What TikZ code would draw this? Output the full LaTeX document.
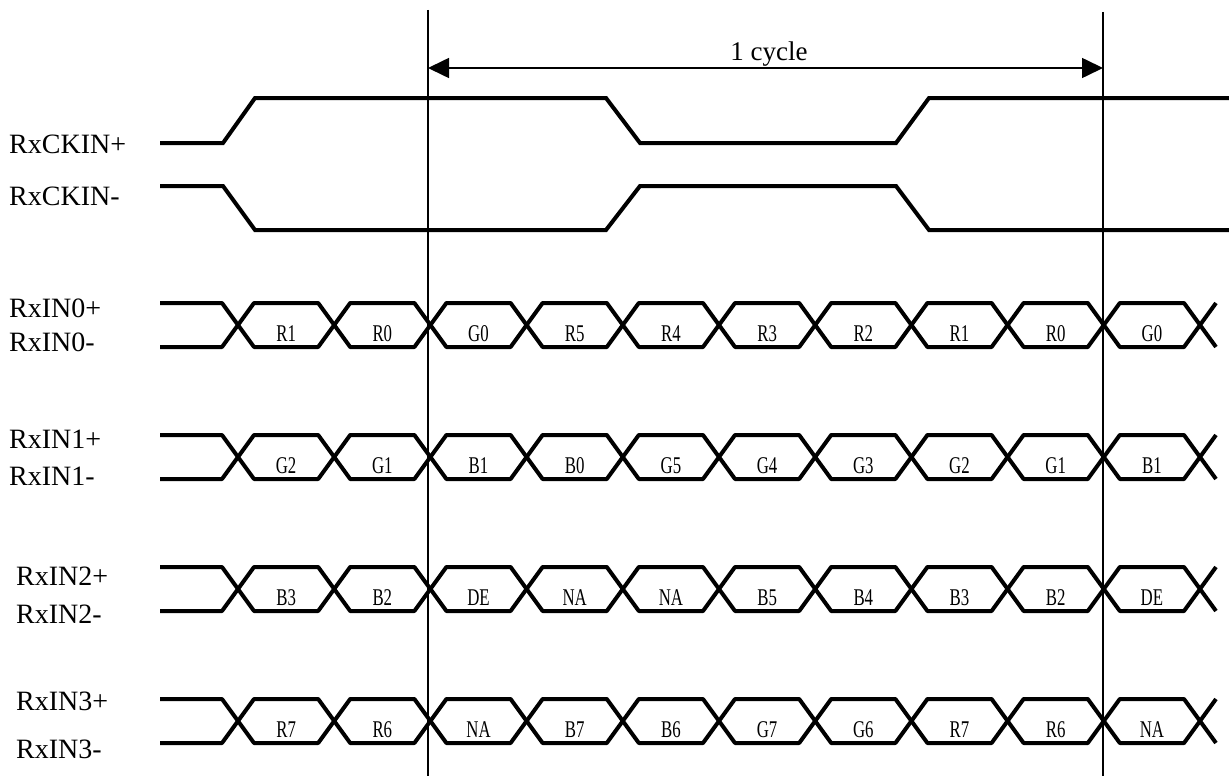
\documentclass[tikz,border=0pt]{standalone}
\usepackage{graphicx}
\usepackage{fontspec}
\setmainfont{Liberation Serif}
\usepackage{tikz}
\usetikzlibrary{calc,arrows.meta}

\begin{document}
\begin{tikzpicture}[
  x=1pt, y=-1pt
  ]
  \tikzstyle{wave}=[line width=4pt]
  \tikzstyle{bus}=[line width=4pt, line join=round]
  \tikzstyle{marker}=[line width=2pt]
  \tikzstyle{span}=[line width=1.6pt, {Triangle[length=21pt,width=20pt]}-{Triangle[length=21pt,width=20pt]}]
  \tikzstyle{pin name}=[anchor=base west, inner sep=0pt, font=\fontsize{28}{28}\selectfont]
  \tikzstyle{bit name}=[anchor=base, inner sep=0pt, font=\fontsize{24}{24}\selectfont]
  \fill[white] (0,0) rectangle (1229,776);
  \useasboundingbox (0,0) rectangle (1229,776);
  % clock pair
  \draw[wave] (160,143) -- (223,143) -- (255,98) -- (606,98) -- (640,143) -- (896,143) -- (929,98) -- (1229,98);
  \draw[wave] (160,186) -- (223,186) -- (255,230) -- (606,230) -- (640,186) -- (896,186) -- (929,230) -- (1229,230);
  \node[pin name] (ckp) at (9,153) {RxCKIN+};
  \node[pin name] (ckn) at (9,205) {RxCKIN-};
  % data pairs
  \foreach \rowtop/\bits [count=\r] in {303/{R1,R0,G0,R5,R4,R3,R2,R1,R0,G0},
      435/{G2,G1,B1,B0,G5,G4,G3,G2,G1,B1},
      567/{B3,B2,DE,NA,NA,B5,B4,B3,B2,DE},
      699/{R7,R6,NA,B7,B6,G7,G6,R7,R6,NA}} {
    \pgfmathsetmacro\rowmid{\rowtop+22}
    \pgfmathsetmacro\rowbot{\rowtop+44}
    \draw[bus] (160,\rowtop) -- (222,\rowtop) -- (238,\rowmid) -- (222,\rowbot) -- (160,\rowbot);
    \foreach \lab [count=\k from 0] in \bits {
      \pgfmathsetmacro\xa{238+96.2*\k}
      \pgfmathsetmacro\xb{\xa+96.2}
      \draw[bus] (\xa,\rowmid) -- (\xa+16,\rowtop) -- (\xb-16,\rowtop) -- (\xb,\rowmid) -- (\xb-16,\rowbot) -- (\xa+16,\rowbot) -- cycle;
      \node[bit name] (d\r-\k) at (\xa+48.1,\rowtop+38) {\scalebox{.7}[1]{\lab}};
    }
    \draw[bus] (1216,\rowtop) -- (1200,\rowmid) -- (1216,\rowbot);
  }
  \node[pin name] (in0p) at (9,317) {RxIN0+};
  \node[pin name] (in0n) at (9,351) {RxIN0-};
  \node[pin name] (in1p) at (9,448) {RxIN1+};
  \node[pin name] (in1n) at (9,485) {RxIN1-};
  \node[pin name] (in2p) at (16,585) {RxIN2+};
  \node[pin name] (in2n) at (16,623) {RxIN2-};
  \node[pin name] (in3p) at (16,710) {RxIN3+};
  \node[pin name] (in3n) at (16,758) {RxIN3-};
  % cycle markers
  \coordinate (t0 top) at (428,10);
  \coordinate (t0 bottom) at (428,776);
  \coordinate (t1 top) at (1103,12);
  \coordinate (t1 bottom) at (1103,776);
  \coordinate (cycle start) at (428,68);
  \coordinate (cycle end) at (1103,68);
  \draw[marker] (t0 top) -- (t0 bottom);
  \draw[marker] (t1 top) -- (t1 bottom);
  \draw[span] (cycle start) -- (cycle end);
  \node[anchor=base, inner sep=0pt, font=\fontsize{27}{27}\selectfont] (cycle) at (769,61) {1 cycle};
\end{tikzpicture}
\end{document}
